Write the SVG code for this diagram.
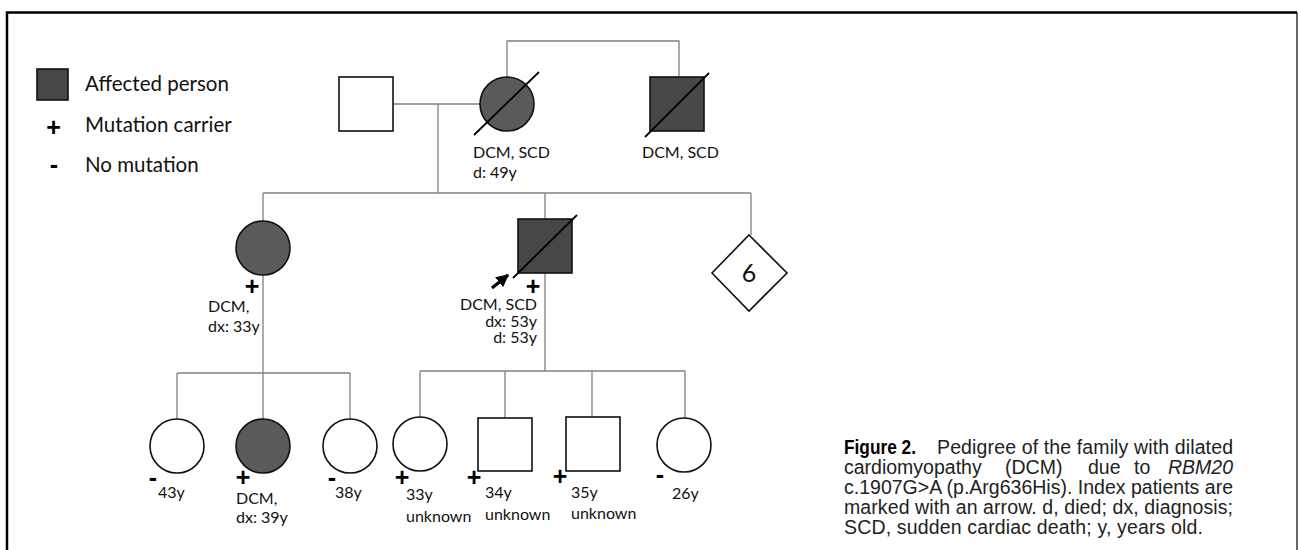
<svg xmlns="http://www.w3.org/2000/svg" width="1298" height="550" viewBox="0 0 1298 550">
<style>
.bg{fill:#ffffff}
.frame{stroke:#000;stroke-width:2.5;fill:none}
.frame2{stroke:#000;stroke-width:1.2;fill:none}
.con{stroke:#808080;stroke-width:1.3;fill:none}
.un{fill:#ffffff;stroke:#111;stroke-width:1.6}
.aff{fill:#5a5a5a;stroke:#111;stroke-width:1.6}
.aff2{fill:#474747;stroke:#111;stroke-width:1.6}
.slash{stroke:#000;stroke-width:1.8;fill:none}
.lbl{font-family:Lato,"Open Sans","Liberation Sans",sans-serif;font-size:16px;fill:#111}
.leg{font-family:Lato,"Open Sans","Liberation Sans",sans-serif;font-size:20.5px;fill:#111}
.sign{font-family:"Liberation Sans",Arial,sans-serif;font-weight:bold;font-size:25px;fill:#000;text-anchor:middle}
.cap{font-family:"Liberation Sans",Arial,sans-serif;font-size:19.5px;fill:#222}
.capb{font-family:"Liberation Sans",Arial,sans-serif;font-size:19.5px;font-weight:bold;fill:#000}
</style>
<defs>
<marker id="ah" viewBox="0 0 10 10" refX="9" refY="5" markerWidth="4" markerHeight="4" orient="auto" markerUnits="strokeWidth">
<path d="M0,0 L10,5 L0,10 z" fill="#000"/>
</marker>
</defs>
<rect class="bg" x="0" y="0" width="1298" height="550"/>
<g id="frame">
<path class="frame" d="M7,550 L7,12.5 L1297,12.5"/>
<path class="frame2" d="M1297,12.5 L1297,550"/>
</g>
<g id="legend">
<rect class="aff2" x="37" y="69" width="31" height="31"/>
<text class="leg" x="85" y="91">Affected person</text>
<text class="sign" x="53.5" y="136">+</text>
<text class="leg" x="85" y="132">Mutation carrier</text>
<text class="sign" x="54" y="172.5">-</text>
<text class="leg" x="85" y="172">No mutation</text>
</g>
<g id="connectors">
<path class="con" d="M393,104 L480,104"/>
<path class="con" d="M438,104 L438,193"/>
<path class="con" d="M507,77 L507,41 L679,41 L679,77"/>
<path class="con" d="M263,193 L751,193"/>
<path class="con" d="M263,193 L263,221"/>
<path class="con" d="M545,193 L545,219"/>
<path class="con" d="M751,193 L751,235"/>
<path class="con" d="M263,275 L263,419"/>
<path class="con" d="M177,373 L350,373"/>
<path class="con" d="M177,373 L177,419"/>
<path class="con" d="M350,373 L350,419"/>
<path class="con" d="M545,273 L545,371"/>
<path class="con" d="M420,371 L685,371"/>
<path class="con" d="M420,371 L420,417"/>
<path class="con" d="M505,371 L505,418"/>
<path class="con" d="M592,371 L592,417"/>
<path class="con" d="M685,371 L685,418"/>
</g>
<g id="father">
<rect class="un" x="339" y="77" width="54" height="54"/>
</g>
<g id="mother">
<circle class="aff" cx="507" cy="104" r="27"/>
<path class="slash" d="M474,135 L539,72"/>
<text class="lbl" x="473" y="158">DCM, SCD</text>
<text class="lbl" x="473" y="178">d: 49y</text>
</g>
<g id="uncle">
<rect class="aff2" x="650" y="77" width="54" height="54"/>
<path class="slash" d="M645,137 L709,73"/>
<text class="lbl" x="642" y="158">DCM, SCD</text>
</g>
<g id="daughter">
<circle class="aff" cx="263" cy="248" r="27"/>
<text class="sign" x="252" y="295">+</text>
<text class="lbl" x="208" y="312">DCM,</text>
<text class="lbl" x="208" y="332">dx: 33y</text>
</g>
<g id="index">
<rect class="aff2" x="518" y="219" width="54" height="54"/>
<path class="slash" d="M513,278 L577,215"/>
<path d="M492,288 L508,275" stroke="#000" stroke-width="3.2" fill="none" marker-end="url(#ah)"/>
<text class="sign" x="533" y="294.5">+</text>
<text class="lbl" x="537" y="309.5" text-anchor="end">DCM, SCD</text>
<text class="lbl" x="537" y="326.5" text-anchor="end">dx: 53y</text>
<text class="lbl" x="537" y="343" text-anchor="end">d: 53y</text>
</g>
<g id="siblings6">
<path class="un" d="M749,235 L787,273 L749,311 L712,273 Z"/>
<text x="749" y="282" text-anchor="middle" style="font-family:Lato,'Open Sans','Liberation Sans',sans-serif;font-size:25px;fill:#111">6</text>
</g>
<g id="gc1">
<circle class="un" cx="177" cy="446" r="27"/>
<text class="sign" x="153" y="485.5">-</text>
<text class="lbl" x="158" y="498">43y</text>
</g>
<g id="gc2">
<circle class="aff" cx="263" cy="446" r="27"/>
<text class="sign" x="243" y="485.5">+</text>
<text class="lbl" x="236" y="503.5">DCM,</text>
<text class="lbl" x="236" y="523">dx: 39y</text>
</g>
<g id="gc3">
<circle class="un" cx="350" cy="446" r="27"/>
<text class="sign" x="332" y="485.5">-</text>
<text class="lbl" x="335" y="498">38y</text>
</g>
<g id="gc4">
<circle class="un" cx="420" cy="444" r="27"/>
<text class="sign" x="402" y="486">+</text>
<text class="lbl" x="406" y="500">33y</text>
<text class="lbl" x="406" y="522">unknown</text>
</g>
<g id="gc5">
<rect class="un" x="478" y="418" width="54" height="53"/>
<text class="sign" x="474" y="486">+</text>
<text class="lbl" x="485" y="498">34y</text>
<text class="lbl" x="485" y="520">unknown</text>
</g>
<g id="gc6">
<rect class="un" x="566" y="417" width="54" height="54"/>
<text class="sign" x="560" y="485">+</text>
<text class="lbl" x="571" y="498">35y</text>
<text class="lbl" x="571" y="519">unknown</text>
</g>
<g id="gc7">
<circle class="un" cx="684" cy="445" r="27"/>
<text class="sign" x="660" y="482.5">-</text>
<text class="lbl" x="672" y="499">26y</text>
</g>
<g id="caption">
<text class="capb" x="844" y="454" textLength="72" lengthAdjust="spacingAndGlyphs">Figure 2.</text>
<text class="cap" x="937" y="454" textLength="296" lengthAdjust="spacing">Pedigree of the family with dilated</text>
<text class="cap" y="474"><tspan x="844">cardiomyopathy</tspan><tspan x="1005">(DCM)</tspan><tspan x="1088">due</tspan><tspan x="1134">to</tspan><tspan x="1168" font-style="italic">RBM20</tspan></text>
<text class="cap" x="844" y="494" textLength="389" lengthAdjust="spacing">c.1907G&gt;A (p.Arg636His). Index patients are</text>
<text class="cap" x="844" y="514" textLength="389" lengthAdjust="spacing">marked with an arrow. d, died; dx, diagnosis;</text>
<text class="cap" x="844" y="534" textLength="359" lengthAdjust="spacing">SCD, sudden cardiac death; y, years old.</text>
</g>
</svg>
